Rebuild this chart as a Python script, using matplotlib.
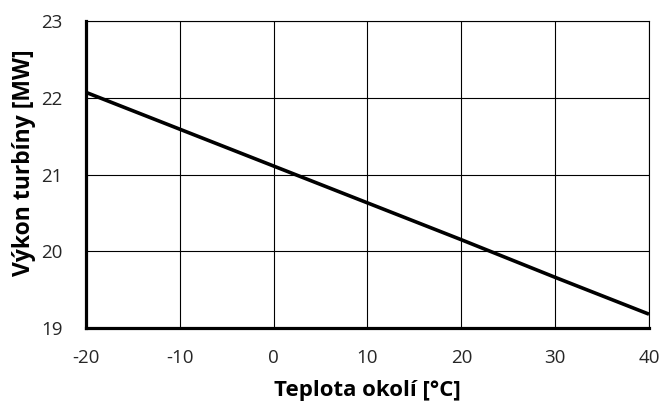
import matplotlib
matplotlib.use("Agg")
import matplotlib.pyplot as plt

temperature = [-20, -10, 0, 10, 20, 30, 40]
power = [22.07, 21.59, 21.11, 20.63, 20.15, 19.66, 19.18]
x_ticks = [-20, -10, 0, 10, 20, 30, 40]
y_ticks = [19, 20, 21, 22, 23]

plt.rcParams['font.family'] = ['Open Sans', 'DejaVu Sans']
plt.rcParams['axes.unicode_minus'] = False

W, H = 659, 401
fig = plt.figure(figsize=(W / 100, H / 100), dpi=100)
ax = fig.add_axes([86 / W, 1 - 328 / H, (649 - 86) / W, (328 - 21) / H])
ax.plot(temperature, power, color='black', linewidth=2.6, solid_capstyle='butt', zorder=3)
ax.set_xlim(-20, 40)
ax.set_ylim(19, 23)
ax.set_xticks(x_ticks)
ax.set_yticks(y_ticks)
ax.grid(True, color='black', linewidth=0.8)
ax.set_axisbelow(True)
for s in ['top', 'right']:
    ax.spines[s].set_visible(False)
for s in ['left', 'bottom']:
    ax.spines[s].set_linewidth(2.3)
    ax.spines[s].set_zorder(4)
ax.axhline(23, color='black', linewidth=0.8, clip_on=False)
ax.axvline(40, color='black', linewidth=0.8, clip_on=False)
ax.tick_params(length=0, labelsize=13.5, colors='#262626')
ax.tick_params(axis='x', pad=15)
ax.tick_params(axis='y', pad=17)
fig.text(367.5 / W, 1 - 396 / H, 'Teplota okolí [°C]', fontsize=16, fontweight='bold',
         ha='center', va='baseline')
fig.text(12 / W, 1 - 162.5 / H, 'Výkon turbíny [MW]', fontsize=16.5, fontweight='bold',
         rotation=90, ha='left', va='center')
fig.savefig('out.png', dpi=100)
